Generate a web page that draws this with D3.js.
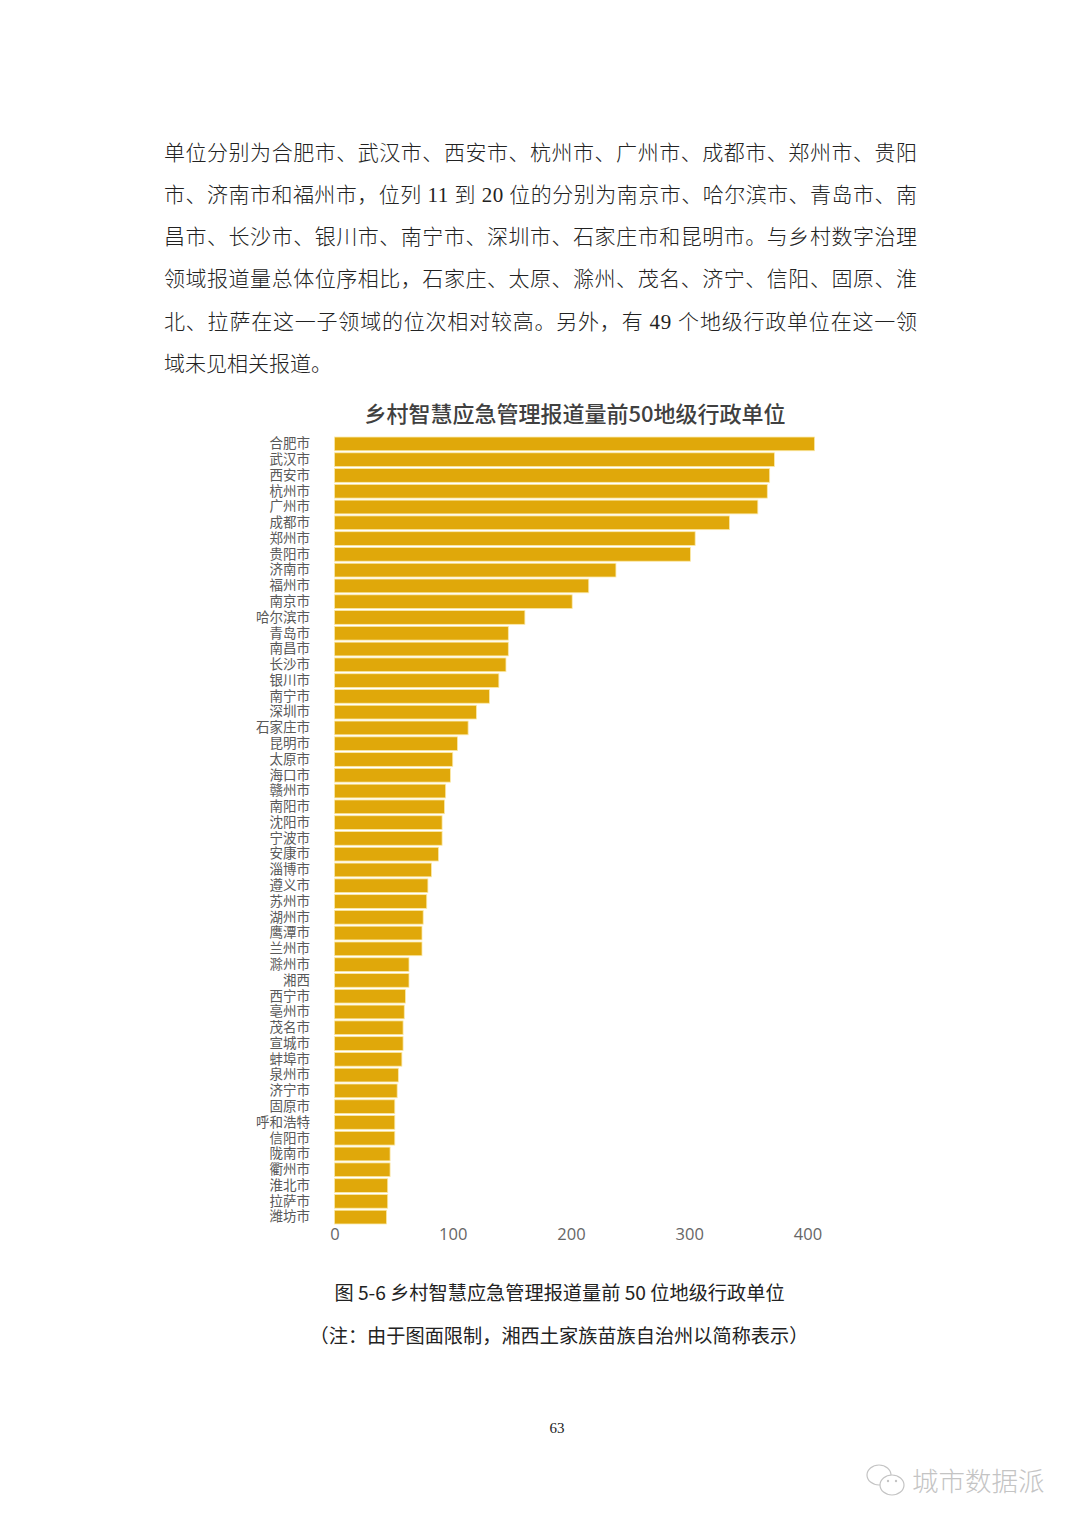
<!DOCTYPE html>
<html>
<head>
<meta charset="utf-8">
<script src="https://cdn.jsdelivr.net/npm/d3@7/dist/d3.min.js"></script>
<style>
  html, body { margin: 0; padding: 0; background: #fff; }
  svg { display: block; }
</style>
</head>
<body>
<svg id="page"></svg>
<script>
const cities = ["合肥市","武汉市","西安市","杭州市","广州市","成都市","郑州市","贵阳市","济南市","福州市",
  "南京市","哈尔滨市","青岛市","南昌市","长沙市","银川市","南宁市","深圳市","石家庄市","昆明市",
  "太原市","海口市","赣州市","南阳市","沈阳市","宁波市","安康市","淄博市","遵义市","苏州市",
  "湖州市","鹰潭市","兰州市","滁州市","湘西","西宁市","亳州市","茂名市","宣城市","蚌埠市",
  "泉州市","济宁市","固原市","呼和浩特","信阳市","陇南市","衢州市","淮北市","拉萨市","潍坊市"];
const reports = [406,372,368,366,358,334,305,301,238,215,
  201,161,147,147,145,139,131,120,113,104,
  100,98,94,93,91,91,88,82,79,78,
  75,74,74,63,63,60,59,58,58,57,
  54,53,51,51,51,47,47,45,45,44];
const xTicks = [0,100,200,300,400];
const bodyLines = [
  "单位分别为合肥市、武汉市、西安市、杭州市、广州市、成都市、郑州市、贵阳",
  "市、济南市和福州市，位列 11 到 20 位的分别为南京市、哈尔滨市、青岛市、南",
  "昌市、长沙市、银川市、南宁市、深圳市、石家庄市和昆明市。与乡村数字治理",
  "领域报道量总体位序相比，石家庄、太原、滁州、茂名、济宁、信阳、固原、淮",
  "北、拉萨在这一子领域的位次相对较高。另外，有 49 个地级行政单位在这一领",
  "域未见相关报道。"
];
const chartTitle = "乡村智慧应急管理报道量前50地级行政单位";
const figCaption = "图 5-6 乡村智慧应急管理报道量前 50 位地级行政单位";
const figNote = "（注：由于图面限制，湘西土家族苗族自治州以简称表示）";

const W = 1080, H = 1527;
const cjk = "'Noto Sans CJK SC', 'Noto Sans', sans-serif";
const bodyFont = "'Liberation Serif', 'Noto Sans CJK SC', serif"; // digits serif, CJK falls back
const chartFont = "'Noto Sans CJK SC', 'Open Sans', sans-serif";

const svg = d3.select("#page").attr("width", W).attr("height", H).attr("viewBox", `0 0 ${W} ${H}`);
svg.append("rect").attr("width", W).attr("height", H).attr("fill", "#fff");

// body paragraph, full lines stretched to the text block width
const bodyLeft = 164, bodyRight = 917;
svg.append("g").selectAll("text").data(bodyLines).join("text")
  .attr("x", bodyLeft)
  .attr("y", (d, i) => 159.5 + i * 42.3)
  .attr("font-family", bodyFont)
  .attr("font-size", 21)
  .attr("font-weight", 300)
  .attr("fill", "#222")
  .each(function (d, i) {
    if (i < bodyLines.length - 1) {
      d3.select(this).attr("textLength", bodyRight - bodyLeft).attr("lengthAdjust", "spacing");
    }
  })
  .text(d => d);

// chart
svg.append("text")
  .attr("x", 575).attr("y", 421.5)
  .attr("text-anchor", "middle")
  .attr("font-family", chartFont)
  .attr("font-size", 22)
  .attr("font-weight", 500)
  .attr("fill", "#404040")
  .text(chartTitle);

const x = d3.scaleLinear().domain([0, 400]).range([334.5, 807.5]);
const y = d3.scaleBand().domain(cities).range([436, 1225]).paddingInner(0.13).paddingOuter(0.065);

svg.append("g").selectAll("rect").data(cities).join("rect")
  .attr("x", x(0))
  .attr("y", d => y(d))
  .attr("width", (d, i) => x(reports[i]) - x(0))
  .attr("height", y.bandwidth())
  .attr("fill", "#E0A80A")
  .attr("stroke", "#FBE9A8")
  .attr("stroke-width", 0.8);

const yAxis = svg.append("g")
  .attr("transform", "translate(310,0)")
  .call(d3.axisLeft(y).tickSize(0).tickPadding(0));
yAxis.select(".domain").remove();
yAxis.selectAll("text")
  .attr("font-family", chartFont)
  .attr("font-size", 13.5)
  .attr("fill", "#595959");

const xAxis = svg.append("g")
  .attr("transform", "translate(0,1225)")
  .call(d3.axisBottom(x).tickValues(xTicks).tickSize(0).tickPadding(0));
xAxis.select(".domain").remove();
xAxis.selectAll("text")
  .attr("dy", "0")
  .attr("y", 15)
  .attr("font-family", "'Open Sans', sans-serif")
  .attr("font-size", 16.5)
  .attr("fill", "#666");

// caption, note, page number
svg.append("text")
  .attr("x", 559.5).attr("y", 1300)
  .attr("text-anchor", "middle")
  .attr("font-family", cjk)
  .attr("font-size", 19.2)
  .attr("fill", "#222")
  .text(figCaption);
svg.append("text")
  .attr("x", 559).attr("y", 1343)
  .attr("text-anchor", "middle")
  .attr("font-family", cjk)
  .attr("font-size", 19.2)
  .attr("fill", "#222")
  .text(figNote);
svg.append("text")
  .attr("x", 557).attr("y", 1433)
  .attr("text-anchor", "middle")
  .attr("font-family", "'Liberation Serif', serif")
  .attr("font-size", 15)
  .attr("fill", "#222")
  .text("63");

// watermark
const mark = svg.append("g").attr("fill", "none").attr("stroke", "#c4c4c4").attr("stroke-width", 1.2);
mark.append("ellipse").attr("cx", 879).attr("cy", 1475).attr("rx", 12).attr("ry", 10);
mark.append("ellipse").attr("cx", 892).attr("cy", 1485).attr("rx", 12).attr("ry", 10).attr("fill", "#fff");
svg.append("g").attr("fill", "#c4c4c4").selectAll("circle").data([888, 896]).join("circle")
  .attr("cx", d => d).attr("cy", 1481).attr("r", 1.2);
svg.append("text")
  .attr("x", 912).attr("y", 1491)
  .attr("font-family", cjk)
  .attr("font-size", 26.5)
  .attr("font-weight", 300)
  .attr("fill", "#c4c4c4")
  .text("城市数据派");
</script>
</body>
</html>
